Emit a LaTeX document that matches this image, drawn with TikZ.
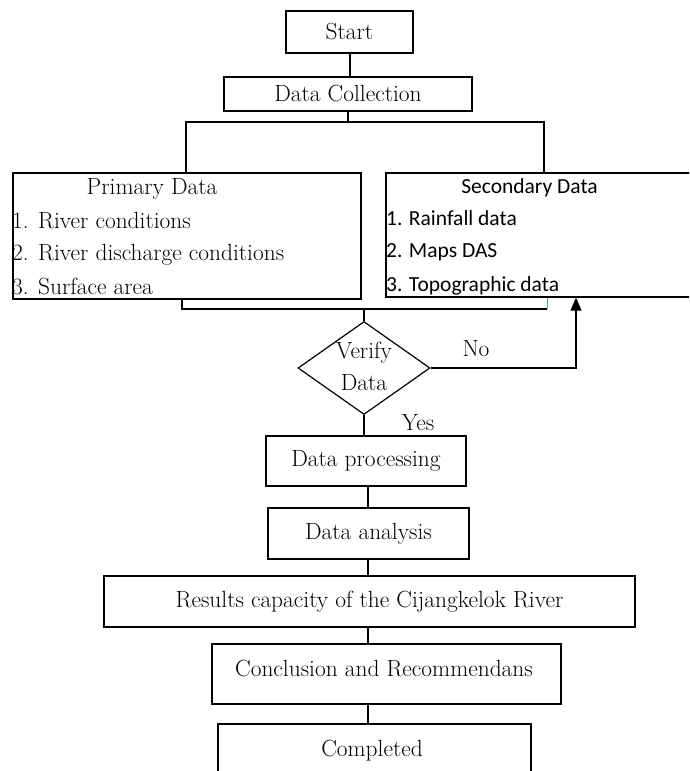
\documentclass[tikz,border=0pt]{standalone}
\usepackage{fontspec}
\newfontfamily\secfont{Carlito}
\usetikzlibrary{shapes.geometric,arrows.meta,calc}
\newcommand\bodysize{\fontsize{23.4}{32}\selectfont}
\tikzset{
  boxshape/.style={draw, line width=1.2pt, rectangle, inner sep=0pt},
  conn/.style={line width=1.1pt},
  txt/.style={inner sep=0pt, font=\bodysize},
  stxt/.style={inner sep=0pt, font=\secfont\fontsize{21.5}{25}\selectfont},
}
\begin{document}
\begin{tikzpicture}[x=1pt,y=-1pt]
\useasboundingbox (0,0) rectangle (689,771);
\clip (0,0) rectangle (689,771);
\fill[white] (0,0) rectangle (689,771);

% boxes
\node[boxshape, minimum width=127pt, minimum height=42pt, font=\bodysize] (start) at (349.5,32) {Start};
\node[boxshape, minimum width=248pt, minimum height=34pt, font=\bodysize] (dc) at (348,94) {Data Collection};
\node[boxshape, minimum width=348pt, minimum height=126pt] (prim) at (187,236) {};
\node[boxshape, minimum width=309pt, minimum height=124pt] (sec) at (540.5,235) {};
\node[draw, line width=1.2pt, diamond, minimum width=132pt, minimum height=93pt, inner sep=0pt] (verify) at (364,368) {};
\node[boxshape, minimum width=200pt, minimum height=50pt, font=\bodysize] (proc) at (366,461) {Data processing};
\node[boxshape, minimum width=201pt, minimum height=51pt, font=\bodysize] (ana) at (368.5,533.5) {Data analysis};
\node[boxshape, minimum width=531pt, minimum height=51pt, font=\bodysize] (res) at (369.5,601.5) {Results capacity of the Cijangkelok River};
\node[boxshape, minimum width=349pt, minimum height=60pt] (conc) at (386.5,674) {};
\node[boxshape, minimum width=313pt, minimum height=66pt] (comp) at (374.5,757) {};

% texts inside boxes
\node[txt, anchor=base] (ptitle) at (152,194) {Primary Data};
\node[txt, anchor=base west] (p1) at (12,228) {1. River conditions};
\node[txt, anchor=base west] (p2) at (12,260) {2. River discharge conditions};
\node[txt, anchor=base west] (p3) at (12,294) {3. Surface area};
\node[stxt, anchor=base] (stitle) at (529.5,193) {Secondary Data};
\node[stxt, anchor=base west] (s1) at (386,225) {1. Rainfall data};
\node[stxt, anchor=base west] (s2) at (386,257) {2. Maps DAS};
\node[stxt, anchor=base west] (s3) at (386,291) {3. Topographic data};
\node[txt, align=center] (vtext) at (364,366) {Verify\\Data};
\node[txt, anchor=base] (conctext) at (384,676) {Conclusion and Recommendans};
\node[txt, anchor=base] (comptext) at (372,756) {Completed};
\node[txt, anchor=base] (no) at (476,356) {No};
\node[txt, anchor=base] (yes) at (418,430) {Yes};

% coordinates
\coordinate (b1) at (186,122);
\coordinate (b2) at (544,122);
\coordinate (m1) at (182,309);
\coordinate (m2) at (547,309);
\coordinate (ncorner) at (576,368);
\coordinate (spine) at (368,0);

% connectors
\draw[conn] (start.south -| 350,0) -- (dc.north -| 350,0);
\draw[conn] (dc.south) -- (dc.south |- b1);
\draw[conn] (b1 |- prim.north) -- (b1) -- (b2) -- (b2 |- sec.north);
\draw[conn] (m1 |- prim.south) -- (m1) -- (m2);
\draw[line width=0.9pt, color={rgb,255:red,91;green,155;blue,213}] (m2) -- (m2 |- sec.south);
\draw[conn] (verify.north |- m1) -- (verify.north);
\draw[conn, -{Triangle[width=11pt,length=13pt]}] (verify.east) -- (ncorner) -- (ncorner |- sec.south);
\draw[conn] (verify.south) -- (verify.south |- proc.north);
\draw[conn] (proc.south -| spine) -- (ana.north -| spine);
\draw[conn] (ana.south -| spine) -- (res.north -| spine);
\draw[conn] (res.south -| spine) -- (conc.north -| spine);
\draw[conn] (conc.south -| spine) -- (comp.north -| spine);
\end{tikzpicture}
\end{document}
